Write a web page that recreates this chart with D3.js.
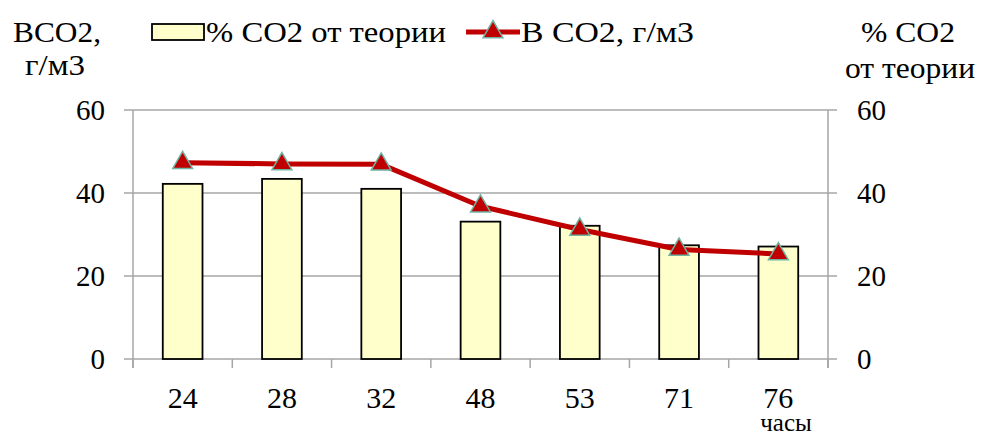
<!DOCTYPE html>
<html>
<head>
<meta charset="utf-8">
<script src="https://d3js.org/d3.v7.min.js"></script>
<style>
  html, body { margin: 0; padding: 0; background: #fff; }
</style>
</head>
<body>
<svg id="svg" width="981" height="436" font-family="'Liberation Serif', 'Times New Roman', Times, serif"></svg>
<script>
  const hours = ['24', '28', '32', '48', '53', '71', '76'];
  const percentCO2 = [42.2, 43.4, 41.0, 33.1, 32.1, 27.4, 27.1];
  const bCO2 = [47.3, 47.0, 46.9, 36.8, 31.2, 26.4, 25.3];
  const yTicks = [0, 20, 40, 60];

  const svg = d3.select('#svg');
  const plotL = 133, plotR = 828, plotT = 110, plotB = 359;
  const gridColor = '#a6a6a6';

  const x = d3.scaleBand().domain(hours).range([plotL, plotR]).paddingInner(0.6).paddingOuter(0.3);
  const xb = d3.scaleBand().domain(hours).range([plotL, plotR]);
  const yL = d3.scaleLinear().domain([0, 60]).range([plotB, plotT]);
  const yR = d3.scaleLinear().domain([0, 60]).range([plotB, plotT]);

  // gridlines
  svg.append('g').selectAll('line').data(yTicks).join('line')
    .attr('x1', plotL - 9).attr('x2', plotR + 9)
    .attr('y1', d => yL(d)).attr('y2', d => yL(d))
    .attr('stroke', gridColor).attr('stroke-width', 1.5);

  // vertical axes
  [plotL, plotR].forEach(px => {
    svg.append('line').attr('x1', px).attr('x2', px).attr('y1', plotT).attr('y2', plotB + 9)
      .attr('stroke', gridColor).attr('stroke-width', 1.5);
  });

  // x ticks
  const xTickPos = hours.map(h => xb(h)).concat([plotR]);
  svg.append('g').selectAll('line').data(xTickPos).join('line')
    .attr('x1', d => d).attr('x2', d => d)
    .attr('y1', plotB).attr('y2', plotB + 9)
    .attr('stroke', gridColor).attr('stroke-width', 1.5);

  // y labels
  svg.append('g').selectAll('text').data(yTicks).join('text')
    .attr('x', plotL - 28).attr('y', d => yL(d) + 10)
    .attr('text-anchor', 'end').attr('font-size', 29).text(d => d);
  svg.append('g').selectAll('text').data(yTicks).join('text')
    .attr('x', plotR + 29).attr('y', d => yR(d) + 10)
    .attr('text-anchor', 'start').attr('font-size', 29).text(d => d);

  // x labels
  svg.append('g').selectAll('text').data(hours).join('text')
    .attr('x', d => xb(d) + xb.bandwidth() / 2).attr('y', 408)
    .attr('text-anchor', 'middle').attr('font-size', 30).text(d => d);
  svg.append('text').attr('x', 786).attr('y', 431).attr('text-anchor', 'middle')
    .attr('font-size', 25).text('часы');

  // bars
  svg.append('g').selectAll('rect').data(percentCO2).join('rect')
    .attr('x', (d, i) => x(hours[i])).attr('width', x.bandwidth())
    .attr('y', d => yR(d)).attr('height', d => plotB - yR(d))
    .attr('fill', '#ffffcc').attr('stroke', '#000').attr('stroke-width', 1.8);

  // line
  const line = d3.line().x((d, i) => xb(hours[i]) + xb.bandwidth() / 2).y(d => yL(d));
  svg.append('path').datum(bCO2).attr('d', line)
    .attr('fill', 'none').attr('stroke', '#c00000').attr('stroke-width', 5)
    .attr('stroke-linejoin', 'round');

  const tri = d3.symbol().type(d3.symbolTriangle).size(170);
  svg.append('g').selectAll('path').data(bCO2).join('path')
    .attr('transform', (d, i) => `translate(${xb(hours[i]) + xb.bandwidth() / 2},${yL(d)})`)
    .attr('d', tri).attr('fill', '#c00000').attr('stroke', '#6fb3a3').attr('stroke-width', 1.5);

  // axis titles (slightly stretched like the original font)
  function label(px, py, str, len, anchor) {
    svg.append('text').attr('x', px).attr('y', py).attr('text-anchor', anchor || 'middle')
      .attr('font-size', 30).attr('textLength', len).attr('lengthAdjust', 'spacingAndGlyphs').text(str);
  }
  label(57, 42, 'ВСО2,', 88);
  label(55, 75, 'г/м3', 60);
  label(908, 42, '% CO2', 94);
  label(910, 78, 'от теории', 130);

  // legend
  svg.append('rect').attr('x', 152).attr('y', 24).attr('width', 52).attr('height', 16)
    .attr('fill', '#ffffcc').attr('stroke', '#000').attr('stroke-width', 1.8);
  label(206, 42, '% CO2 от теории', 240, 'start');
  svg.append('line').attr('x1', 466).attr('x2', 520).attr('y1', 32).attr('y2', 32)
    .attr('stroke', '#c00000').attr('stroke-width', 5);
  svg.append('path').attr('transform', 'translate(493,32)').attr('d', tri)
    .attr('fill', '#c00000').attr('stroke', '#6fb3a3').attr('stroke-width', 1.5);
  label(521, 42, 'В CO2, г/м3', 173, 'start');
</script>
</body>
</html>
